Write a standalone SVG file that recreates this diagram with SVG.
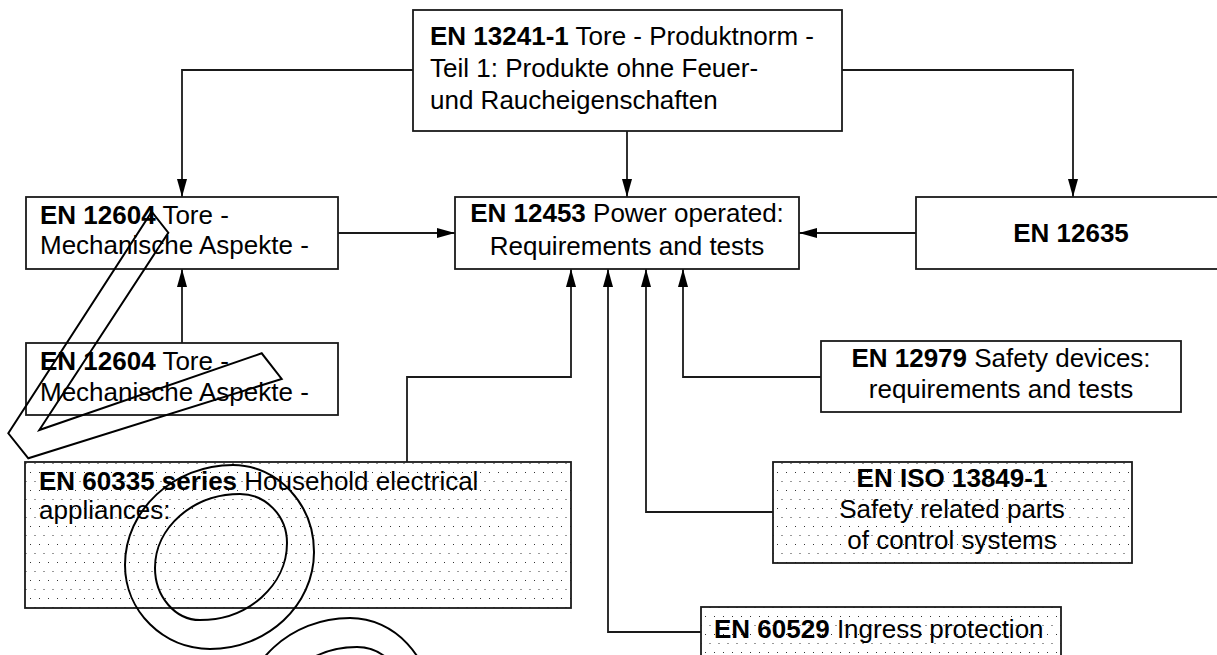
<svg xmlns="http://www.w3.org/2000/svg" width="1217" height="655" viewBox="0 0 1217 655">
<defs>
<style>
.box{fill:#fff;stroke:#1a1a1a;stroke-width:1.8}
.dot{fill:url(#dots);stroke:#1a1a1a;stroke-width:1.8}
.t{font-family:"Liberation Sans",Arial,sans-serif;font-size:26px;fill:#000}
.c{text-anchor:middle}
.b{font-weight:bold}
.conn{fill:none;stroke:#1a1a1a;stroke-width:1.8;marker-end:url(#arr)}
.mark{fill:none;stroke:#000;stroke-width:2}
</style>
<marker id="arr" markerUnits="userSpaceOnUse" markerWidth="18" markerHeight="10" refX="18" refY="5" orient="auto">
<path d="M0,0 L18,5 L0,10 Z" fill="#000"/>
</marker>
<pattern id="dots" patternUnits="userSpaceOnUse" x="0" y="0" width="9" height="18">
<rect width="9" height="18" fill="#fff"/>
<rect x="3" y="4" width="1" height="1" fill="#333"/>
<rect x="7.5" y="13" width="1" height="1" fill="#333"/>
</pattern>
</defs>
<rect width="1217" height="655" fill="#fff"/>

<g id="connectors">
<path class="conn" d="M413,70 H182 V197"/>
<path class="conn" d="M842,70 H1073 V197"/>
<path class="conn" d="M627,131 V197"/>
<path class="conn" d="M338,233 H455"/>
<path class="conn" d="M916,233 H799"/>
<path class="conn" d="M182,343 V269"/>
<path class="conn" d="M407,462 V377 H571 V269"/>
<path class="conn" d="M701,632 H608 V269"/>
<path class="conn" d="M773,512 H646 V269"/>
<path class="conn" d="M821,377 H683 V269"/>
</g>

<g id="n-en13241">
<rect class="box" x="413" y="10" width="429" height="121"/>
<text class="t" x="430" y="45"><tspan class="b">EN 13241-1</tspan> Tore - Produktnorm -</text>
<text class="t" x="430" y="77">Teil 1: Produkte ohne Feuer-</text>
<text class="t" x="430" y="109">und Raucheigenschaften</text>
</g>

<g id="n-en12604a">
<rect class="box" x="26" y="197" width="312" height="72"/>
<text class="t" x="40" y="224"><tspan class="b">EN 12604</tspan> Tore -</text>
<text class="t" x="40" y="254">Mechanische Aspekte -</text>
</g>

<g id="n-en12604b">
<rect class="box" x="26" y="343" width="312" height="72"/>
<text class="t" x="40" y="370"><tspan class="b">EN 12604</tspan> Tore -</text>
<text class="t" x="40" y="401">Mechanische Aspekte -</text>
</g>

<g id="n-en12453">
<rect class="box" x="455" y="197" width="344" height="72"/>
<text class="t c" x="627" y="222"><tspan class="b">EN 12453</tspan> Power operated:</text>
<text class="t c" x="627" y="255">Requirements and tests</text>
</g>

<g id="n-en12635">
<rect class="box" x="916" y="197" width="320" height="72"/>
<text class="t c b" x="1071" y="242">EN 12635</text>
</g>

<g id="n-en12979">
<rect class="box" x="821" y="341" width="360" height="71"/>
<text class="t c" x="1001" y="367"><tspan class="b">EN 12979</tspan> Safety devices:</text>
<text class="t c" x="1001" y="398">requirements and tests</text>
</g>

<g id="n-en60335">
<rect class="dot" x="25" y="462" width="546" height="146"/>
<text class="t" x="39" y="490"><tspan class="b">EN 60335 series</tspan> Household electrical</text>
<text class="t" x="39" y="519">appliances:</text>
</g>

<g id="n-iso13849">
<rect class="dot" x="773" y="462" width="359" height="101"/>
<text class="t c b" x="952" y="487">EN ISO 13849-1</text>
<text class="t c" x="952" y="518">Safety related parts</text>
<text class="t c" x="952" y="549">of control systems</text>
</g>

<g id="n-en60529">
<rect class="dot" x="701" y="607" width="360" height="70"/>
<text class="t" x="714" y="638"><tspan class="b">EN 60529</tspan> Ingress protection</text>
</g>

<g id="marks">
<path class="mark" d="M8.3,433.3 L151.7,211.7 L168.3,232.7 L39.3,430 L261.7,353.3 L281.7,379 L28.3,458.3 Z"/>
<g id="ellipses1">
<path class="mark" d="M233,465 C277.6,465 314,504.2 314,552 C314,605.4 267.2,649 210,649 C163.3,649 125,611.2 125,565 C125,510 173.6,465 233,465 Z"/>
<path class="mark" d="M240,494 C265.9,494 287,516 287,543 C287,585.4 247.9,620 200,620 C175.2,620 155,596.6 155,568 C155,527.3 193.2,494 240,494 Z"/>
</g>
<g transform="translate(117,153)">
<path class="mark" d="M233,465 C277.6,465 314,504.2 314,552 C314,605.4 267.2,649 210,649 C163.3,649 125,611.2 125,565 C125,510 173.6,465 233,465 Z"/>
<path class="mark" d="M240,494 C265.9,494 287,516 287,543 C287,585.4 247.9,620 200,620 C175.2,620 155,596.6 155,568 C155,527.3 193.2,494 240,494 Z"/>
</g>
</g>
</svg>
